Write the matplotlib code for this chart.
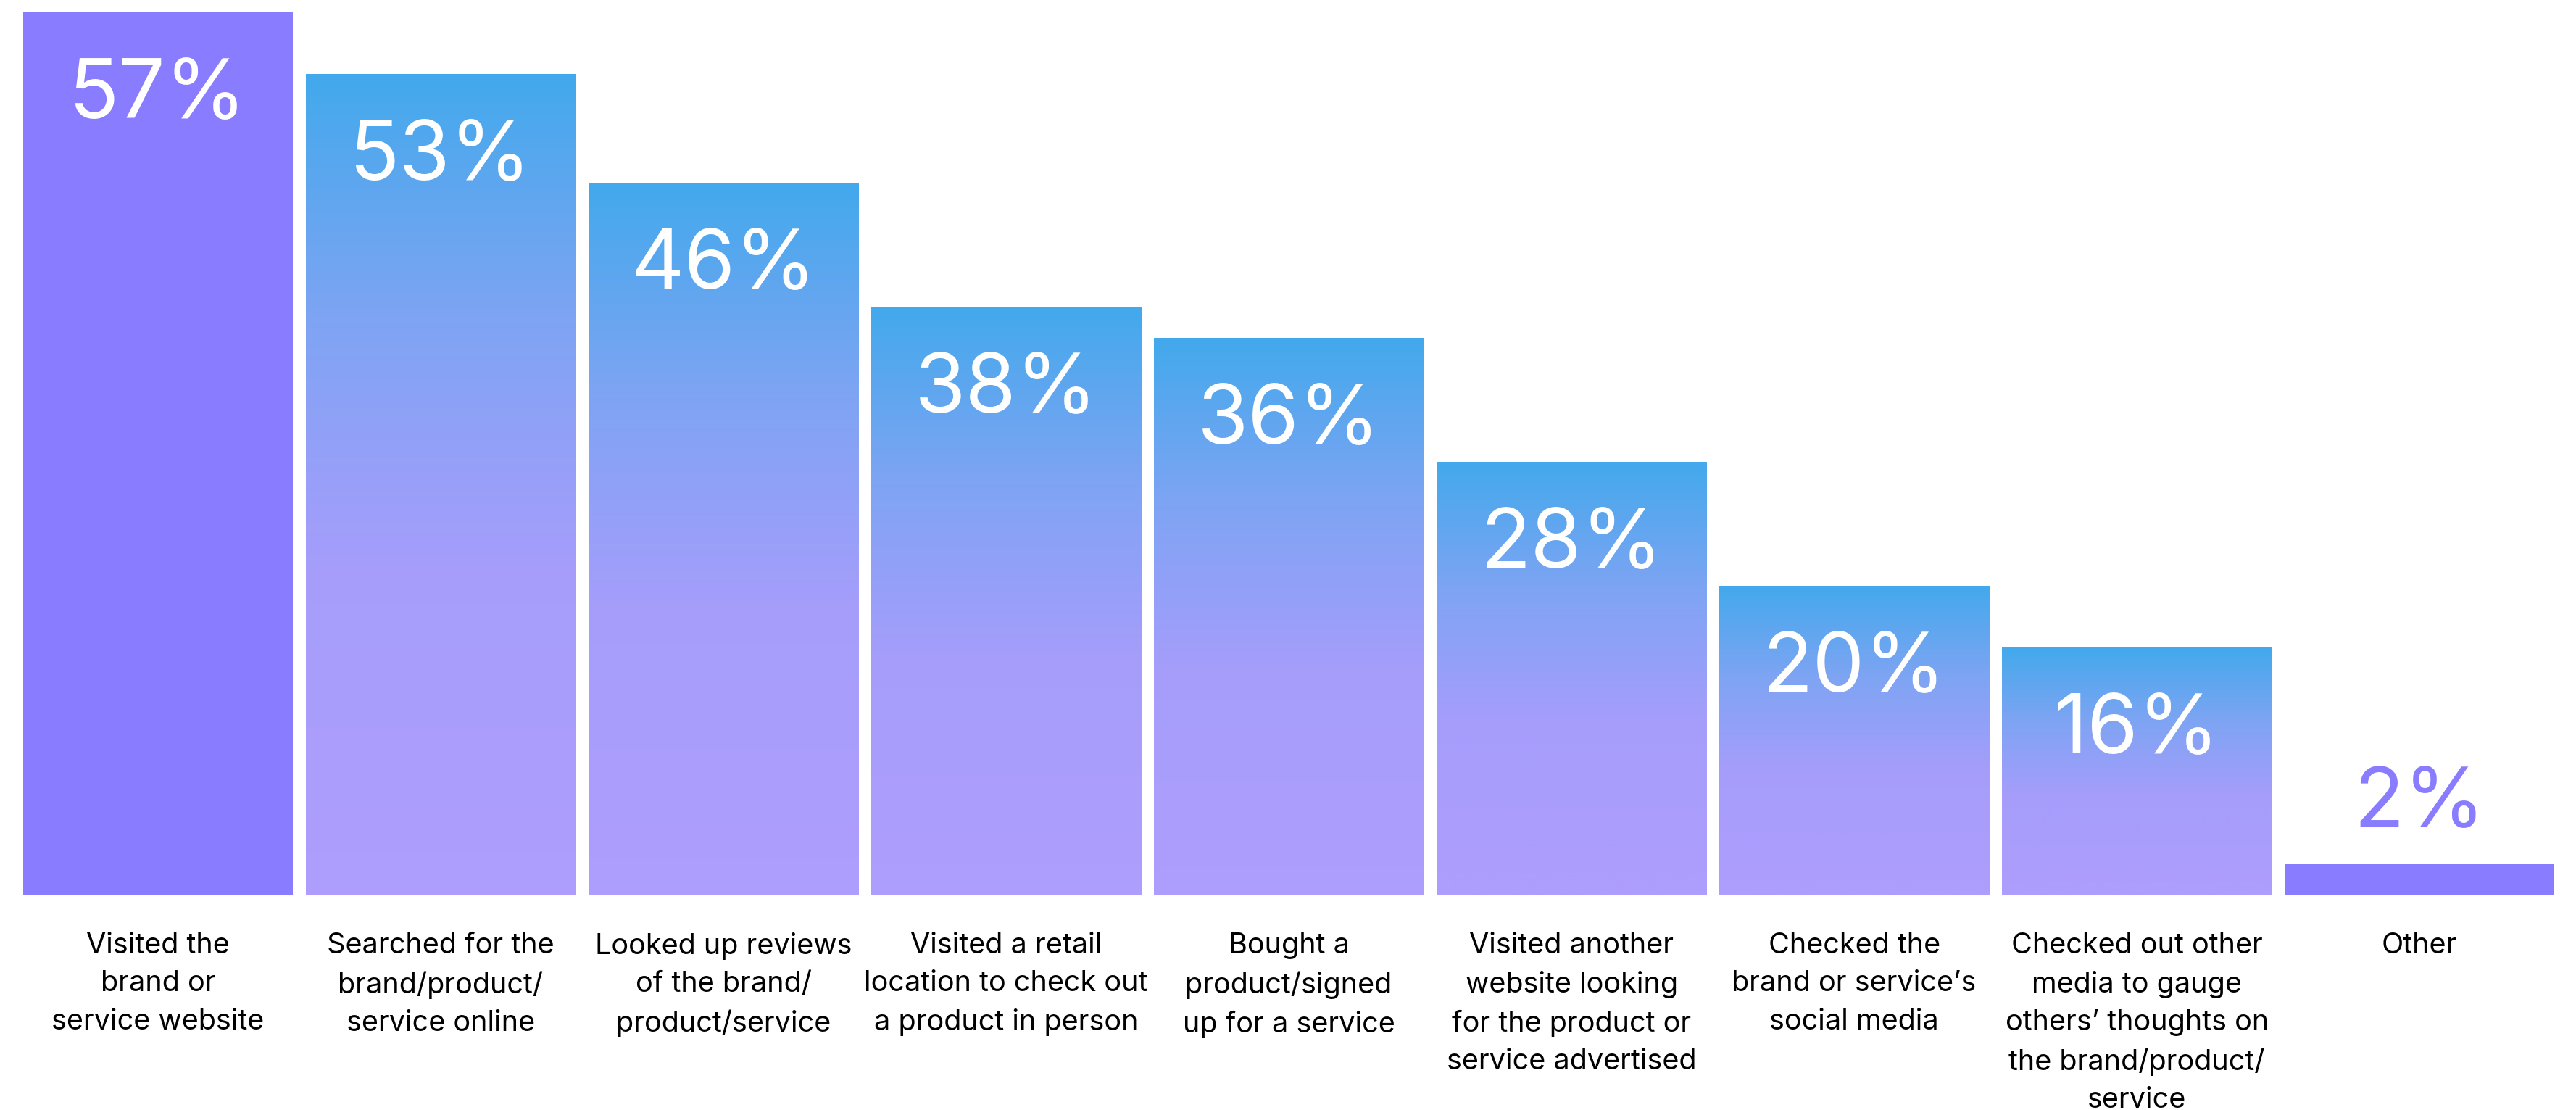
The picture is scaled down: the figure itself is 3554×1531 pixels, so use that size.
import numpy as np
import matplotlib
matplotlib.use("Agg")
import matplotlib.pyplot as plt
from matplotlib.colors import LinearSegmentedColormap

categories = [
    "Visited the\nbrand or\nservice website",
    "Searched for the\nbrand/product/\nservice online",
    "Looked up reviews\nof the brand/\nproduct/service",
    "Visited a retail\nlocation to check out\na product in person",
    "Bought a\nproduct/signed\nup for a service",
    "Visited another\nwebsite looking\nfor the product or\nservice advertised",
    "Checked the\nbrand or service\u2019s\nsocial media",
    "Checked out other\nmedia to gauge\nothers\u2019 thoughts on\nthe brand/product/\nservice",
    "Other",
]
values = [57, 53, 46, 38, 36, 28, 20, 16, 2]
solid = [True, False, False, False, False, False, False, False, True]

purple = "#8A7CFF"
grad = LinearSegmentedColormap.from_list(
    "bluepurple",
    [(0.0, "#43A9EC"), (0.3, "#7FA4F3"), (0.6, "#A69DFB"), (1.0, "#AE9DFD")],
)

plt.rcParams['font.family'] = ['Inter', 'DejaVu Sans']

fig = plt.figure(figsize=(35.55, 15.31), dpi=100)
ax = fig.add_axes([0, 0, 1, 1])
ax.set_xlim(-0.559, 8.556)
ax.set_ylim(-13.85, 57.79)
ax.axis("off")

x = np.arange(len(values))
width = 0.954
bars = ax.bar(x, values, width=width, color=purple, linewidth=0)

# vertical gradient fill for the middle bars
ramp = np.linspace(0, 1, 256).reshape(-1, 1)
for xi, v, s, b in zip(x, values, solid, bars):
    if s:
        continue
    b.set_facecolor("none")
    im = ax.imshow(ramp, cmap=grad, aspect="auto", origin="upper",
                   extent=[xi - width / 2, xi + width / 2, 0, v],
                   interpolation="bicubic", zorder=2)
    im.set_clip_path(b)

# value labels
px_per_unit = 1531 / (57.79 + 13.85)
for xi, v in zip(x, values):
    if v >= 10:
        ax.text(xi, v - 116 / px_per_unit, f"{v}%", ha="center", va="center",
                color="white", fontsize=82, zorder=3)
    else:
        ax.text(xi, v + 82 / px_per_unit, f"{v}%", ha="center", va="center",
                color=purple, fontsize=82, zorder=3)

# category labels under the bars
for xi, c in zip(x, categories):
    ax.text(xi, -2.38, c, ha="center", va="top", color="black",
            fontsize=28.5, linespacing=1.53)

fig.savefig("out.png", dpi=100, facecolor="white")
